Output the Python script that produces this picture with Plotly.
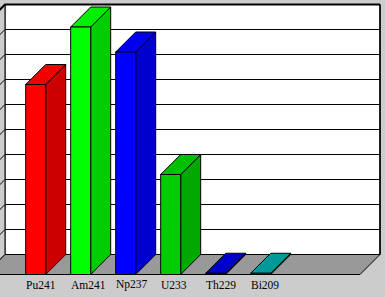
import plotly.graph_objects as go

# ---- data ----
categories = ["Pu241", "Am241", "Np237", "U233", "Th229", "Bi209"]
values = [7.6, 9.9, 8.9, 4.0, 0.05, 0.05]
front_colors = ["#FF0000", "#00FF00", "#0000FF", "#00CC00", "#0000CC", "#009999"]
side_colors = ["#CC0000", "#00CC00", "#0000CC", "#00A800", "#0000A0", "#007777"]
top_colors = ["#F20000", "#00EE00", "#0000EE", "#00C000", "#0000CC", "#009999"]
grid_values = list(range(0, 11))

# ---- geometry (axis units) ----
W, H = 385, 297
PX_PER_CAT = 45.0
PX_PER_UNIT = 25.0
BAR_W = 20 / PX_PER_CAT
DX = 20 / PX_PER_CAT
DY = 20 / PX_PER_UNIT
x_range = [-25.7 / PX_PER_CAT, (W - 25.7) / PX_PER_CAT]
y_range = [-(H - 274.5) / PX_PER_UNIT, 274.5 / PX_PER_UNIT]
wall_left = (5 - 25.7) / PX_PER_CAT
wall_right = (380 - 25.7) / PX_PER_CAT
vmax = grid_values[-1]

BG = "#CCCCCC"
FLOOR = "#999999"

fig = go.Figure()


def poly(xs, ys, fill, lw=1, lc="black"):
    fig.add_trace(go.Scatter(
        x=xs + [xs[0]], y=ys + [ys[0]], mode="lines", fill="toself",
        fillcolor=fill, line=dict(color=lc, width=lw),
        hoverinfo="skip", showlegend=False))


def line(xs, ys, lw=1):
    fig.add_trace(go.Scatter(x=xs, y=ys, mode="lines",
                             line=dict(color="black", width=lw),
                             hoverinfo="skip", showlegend=False))


# back wall
poly([wall_left, wall_right, wall_right, wall_left],
     [DY, DY, vmax + DY, vmax + DY], "white")
# left wall
poly([wall_left - DX, wall_left, wall_left, wall_left - DX],
     [0, DY, vmax + DY, vmax], BG, lw=0, lc=BG)
# grid lines on back wall and left wall
for g in grid_values:
    line([wall_left - DX, wall_left, wall_right], [g, g + DY, g + DY],
         lw=2 if g == vmax else 1)
line([wall_right, wall_right], [DY, vmax + DY], lw=1.5)
line([wall_left, wall_left], [DY, vmax + DY], lw=1)
# floor
poly([wall_left - DX, wall_right - DX, wall_right, wall_left],
     [0, 0, DY, DY], FLOOR)

# bars: side, top and front faces
for i, v in enumerate(values):
    x0 = i
    x1 = i + BAR_W
    poly([x1, x1 + DX, x1 + DX, x1], [0, DY, v + DY, v], side_colors[i])
    poly([x0, x0 + DX, x1 + DX, x1], [v, v + DY, v + DY, v], top_colors[i])
    poly([x0, x1, x1, x0], [0, 0, v, v], front_colors[i])

# category labels
for i, c in enumerate(categories):
    fig.add_annotation(x=i - 0.03, y=-0.40, text=c, showarrow=False,
                       xanchor="left", yanchor="middle",
                       font=dict(family="Liberation Serif", size=11.5,
                                 color="black"))

fig.update_layout(
    width=W, height=H, margin=dict(l=0, r=0, t=0, b=0),
    paper_bgcolor=BG, plot_bgcolor=BG,
    xaxis=dict(range=x_range, visible=False, fixedrange=True),
    yaxis=dict(range=y_range, visible=False, fixedrange=True),
)
fig.write_html("out.html", config={"displayModeBar": False})
